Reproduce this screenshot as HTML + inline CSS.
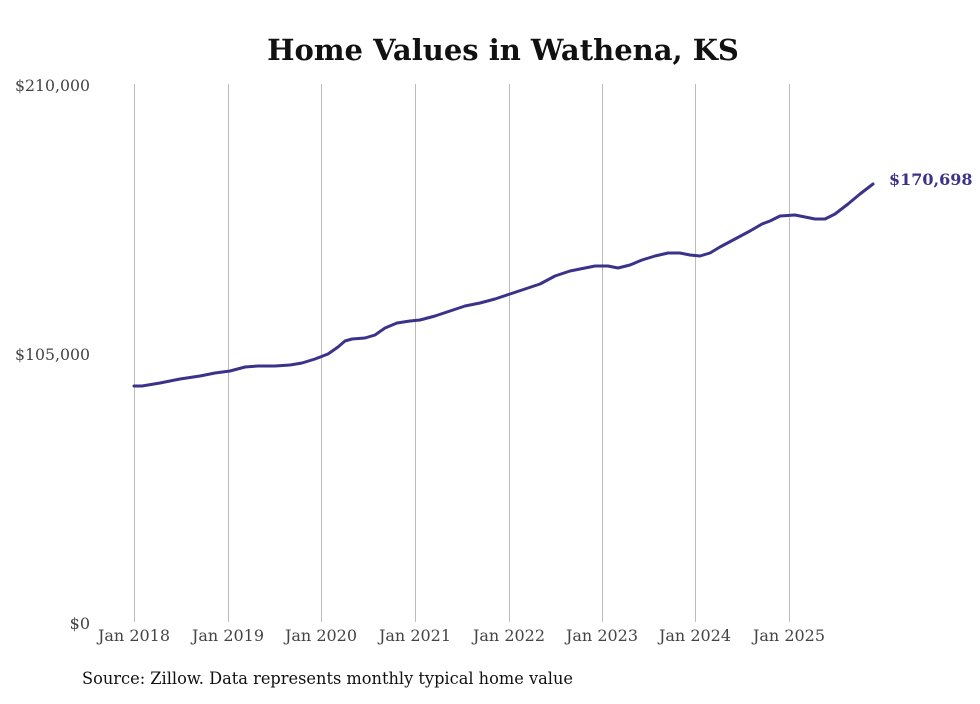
<!DOCTYPE html>
<html><head><meta charset="utf-8"><style>
html,body{margin:0;padding:0;background:#fff;}
svg text{font-family:"DejaVu Serif","Liberation Serif",serif;}
</style></head><body>
<svg width="980" height="699" viewBox="0 0 980 699" xmlns="http://www.w3.org/2000/svg">
<rect width="980" height="699" fill="#fff"/>
<text x="503" y="60" text-anchor="middle" font-size="29" font-weight="bold" fill="#111">Home Values in Wathena, KS</text>
<g stroke="#bbb" stroke-width="1">
<line x1="134.5" y1="84" x2="134.5" y2="622"/>
<line x1="228.5" y1="84" x2="228.5" y2="622"/>
<line x1="321.5" y1="84" x2="321.5" y2="622"/>
<line x1="415.5" y1="84" x2="415.5" y2="622"/>
<line x1="509.5" y1="84" x2="509.5" y2="622"/>
<line x1="602.5" y1="84" x2="602.5" y2="622"/>
<line x1="695.5" y1="84" x2="695.5" y2="622"/>
<line x1="789.5" y1="84" x2="789.5" y2="622"/>
</g>
<g font-size="16" fill="#444">
<text x="90" y="91" text-anchor="end" textLength="75" lengthAdjust="spacingAndGlyphs">$210,000</text>
<text x="90" y="360" text-anchor="end" textLength="75" lengthAdjust="spacingAndGlyphs">$105,000</text>
<text x="90" y="629" text-anchor="end">$0</text>
<g text-anchor="middle">
<text x="134" y="641">Jan 2018</text>
<text x="228" y="641">Jan 2019</text>
<text x="321" y="641">Jan 2020</text>
<text x="415" y="641">Jan 2021</text>
<text x="509" y="641">Jan 2022</text>
<text x="602" y="641">Jan 2023</text>
<text x="695" y="641">Jan 2024</text>
<text x="789" y="641">Jan 2025</text>
</g>
</g>
<polyline fill="none" stroke="#3b3289" stroke-width="3" stroke-linejoin="round" stroke-linecap="round" points="134,386 142,386 160,383 180,379 200,376 215,373 230,371 245,367 258,366 275,366 290,365 302,363 315,359 328,354 338,347 345,341 352,339 365,338 375,335 385,328 397,323 410,321 420,320 435,316 450,311 465,306 480,303 495,299 510,294 525,289 540,284 555,276 570,271 585,268 595,266 608,266 618,268 630,265 642,260 655,256 668,253 680,253 690,255 700,256 710,253 720,247 735,239 750,231 762,224 770,221 780,216 795,215 805,217 815,219 825,219 835,214 848,204 860,194 873,184"/>
<text x="889" y="185" font-size="16" font-weight="bold" fill="#3b3289">$170,698</text>
<text x="82" y="684" font-size="17" fill="#111" textLength="491" lengthAdjust="spacingAndGlyphs">Source: Zillow. Data represents monthly typical home value</text>
</svg>
</body></html>
